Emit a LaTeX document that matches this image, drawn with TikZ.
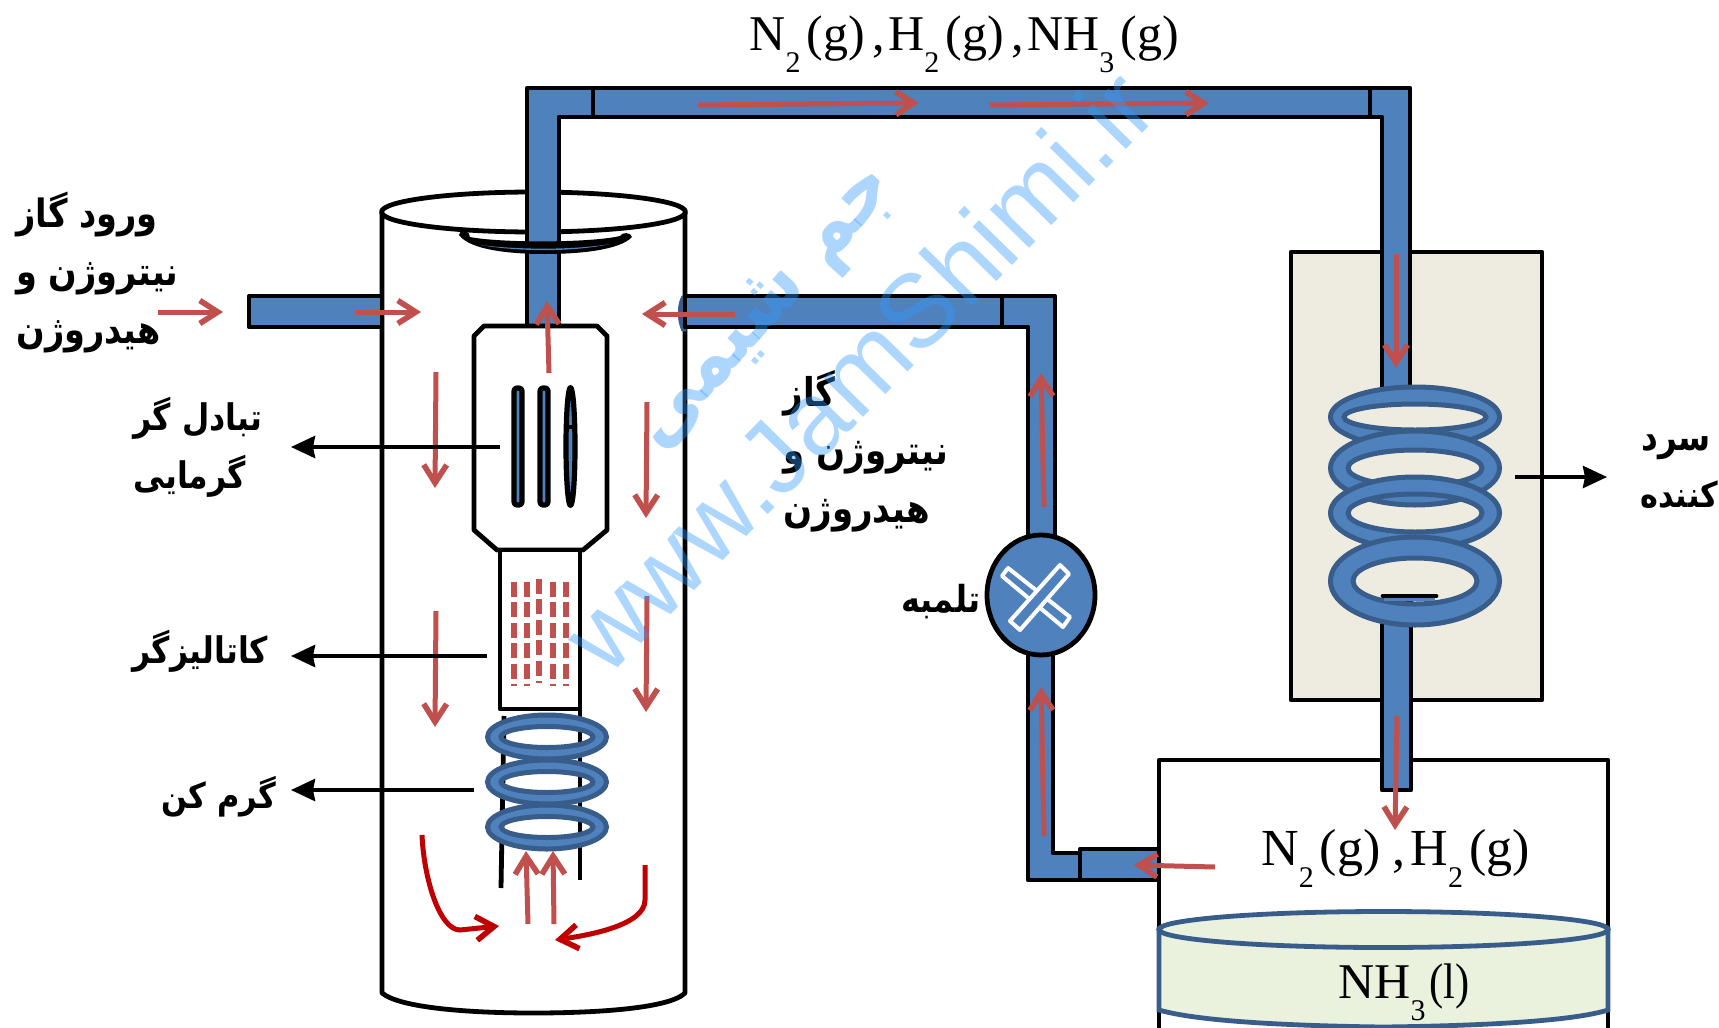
\documentclass[tikz,border=0pt]{standalone}
\usepackage{fontspec}
\usetikzlibrary{arrows.meta}
\setmainfont{Liberation Serif}
\newfontfamily\arabicfont[Script=Arabic,FakeStretch=0.86]{DejaVu Sans}
\newfontfamily\wmfont{Liberation Sans}
\TeXXeTstate=1
\definecolor{pipeblue}{HTML}{4F81BD}
\definecolor{ringedge}{HTML}{385D8A}
\definecolor{redarrow}{HTML}{C0504D}
\definecolor{darkred}{HTML}{C00000}
\definecolor{coolfill}{HTML}{EEECE1}
\definecolor{liquid}{HTML}{EAF1DD}
\definecolor{wmblue}{HTML}{3399FF}
\tikzset{
  pipe/.style={fill=pipeblue,draw=black,line width=2.4pt,line join=round},
  shell/.style={draw=black,line width=2.4pt,line join=round},
  flow/.style={draw=redarrow,line width=2.5pt,-{Straight Barb[length=9pt,width=11.5pt,line width=2.8pt]}},
  curveflow/.style={draw=darkred,line width=2.5pt,-{Straight Barb[length=9pt,width=12pt,line width=2.8pt]}},
  callout/.style={draw=black,line width=2pt,-{Stealth[length=12pt,width=11pt,inset=1pt]}},
  ring/.style={fill=pipeblue,draw=ringedge,line width=2.5pt,even odd rule},
  fa/.style={font=\arabicfont\bfseries\fontsize{#1}{29}\selectfont,inner sep=0pt,align=left},
  fa/.default=19.5,
  chem/.style={font=\fontsize{#1}{30}\selectfont,inner sep=0pt},
  chem/.default=25,
  catdash/.style={draw=redarrow,line width=2.6pt,dash pattern=on 7.5pt off 2.7pt},
  xbar/.style={draw=white,line width=2pt,fill=pipeblue,line join=round}
}
\newcommand{\low}[1]{\raisebox{-11pt}{\fontsize{15}{15}\selectfont #1}}
\newcommand{\gas}[1]{\kern3pt(#1)}
\newcommand{\cma}{\kern4pt,\kern1.5pt}
\begin{document}
\begin{tikzpicture}[x=0.5pt,y=-0.5pt]
\useasboundingbox (0,0) rectangle (1719,1028);
% cooler box and tank
\path[shell,fill=coolfill] (1291,252) rectangle (1542,700);
\coordinate (tankTL) at (1159,760);
\coordinate (tankTR) at (1608,760);
\draw[shell] (1159,1028) -- (tankTL) -- (tankTR) -- (1608,1028);
% reactor shell
\draw[shell] (382,212) -- (382,993) .. controls (400,1008) and (470,1013) .. (533,1013) .. controls (600,1013) and (670,1008) .. (685,993) -- (685,212);
\draw[shell] (533.5,212) ellipse [x radius=152,y radius=20];
% pipes
\draw[pipe] (249,296) rectangle (382,327);
\draw[pipe] (593,88) -- (527,88) -- (527,326) -- (559,326) -- (559,117) -- (593,117) -- cycle;
\draw[pipe] (593,88) rectangle (1370,117);
\draw[pipe] (1370,88) -- (1410,88) -- (1410,390) -- (1382,390) -- (1382,117) -- (1370,117) -- cycle;
\draw[pipe] (1382,600) rectangle (1411,790);
\draw[pipe] (1002,296) -- (1055,296) -- (1055,545) -- (1028,545) -- (1028,327) -- (1002,327) -- cycle;
\draw[ringedge,fill=ringedge] (682,296) .. controls (677,305) and (677,320) .. (682,331) -- (686,331) -- (686,296) -- cycle;
\draw[pipe] (685,296) rectangle (1002,327);
\draw[pipe] (1028,650) -- (1028,880) -- (1080,880) -- (1080,853) -- (1053,853) -- (1053,650) -- cycle;
\draw[pipe] (1080,849) rectangle (1159,880);
% dish
\fill[black] (459,235) .. controls (462,226) and (470,232) .. (470,237) .. controls (500,243) and (590,243) .. (620,236) .. controls (622,232) and (631,232) .. (632,237) .. controls (620,250) and (580,254) .. (545,254) .. controls (510,254) and (470,250) .. (459,235) -- cycle;
\fill[pipeblue] (480,245) .. controls (520,250) and (575,250) .. (610,244) .. controls (575,252) and (520,252) .. (480,245) -- cycle;
% exchanger
\draw[shell,fill=white] (484,326) -- (597,326) -- (607,336) -- (607,530) -- (583,550) -- (497,550) -- (474,530) -- (474,336) -- cycle;
\draw[pipe,line width=2.6pt,rounded corners=1.5pt] (514,388) rectangle (522,505);
\draw[pipe,line width=2.6pt,rounded corners=1.5pt] (540,388) rectangle (548,505);
\draw[pipe,line width=2.6pt] (570.5,446.5) ellipse [x radius=4.5,y radius=59];
\draw[black,line width=2.2pt] (566,427) -- (575,427);
% catalyst bed
\draw[shell,fill=white] (500,550) rectangle (580,709);
\foreach \cx/\dy in {514/0,527/0,539/-3,553/0,566/0}{
  \draw[catdash] (\cx,582+\dy) -- (\cx,686+\dy);
}
% heater legs and coil
\draw[black,line width=2.4pt] (504,716) -- (501,888);
\draw[black,line width=2.4pt] (580,709) -- (580,880);
\foreach \cy in {737,782,827}{
  \path[ring] (547,\cy) ellipse [x radius=59.5,y radius=22] (547,\cy) ellipse [x radius=46,y radius=10.5];
}
% cooling coil
\path[ring] (1415,417) ellipse [x radius=84.5,y radius=30] (1415,417) ellipse [x radius=71,y radius=13];
\path[ring] (1415,468) ellipse [x radius=84.5,y radius=37] (1415,468) ellipse [x radius=67,y radius=18];
\path[ring] (1415,513) ellipse [x radius=84.5,y radius=36] (1415,513) ellipse [x radius=67,y radius=19];
\path[ring] (1415,581) ellipse [x radius=84.5,y radius=44] (1415,581) ellipse [x radius=62,y radius=23];
\fill[pipeblue] (1384,596) rectangle (1435,601);
\draw[black,line width=2.4pt,line cap=round] (1383,596) -- (1436,596);
% liquid
\draw[ringedge,line width=2.4pt,fill=liquid] (1159,929) -- (1159,1010) .. controls (1200,1022) and (1300,1026) .. (1383,1027) .. controls (1470,1026) and (1570,1022) .. (1608,1010) -- (1608,929) -- cycle;
\draw[ringedge,line width=2.4pt,fill=liquid] (1383.5,929.5) ellipse [x radius=224.5,y radius=18];
% pump
\draw[shell,fill=pipeblue] (1041,595) ellipse [x radius=54,y radius=60];
\draw[xbar] (1008,568) -- (1070,617) -- (1063,627) -- (1002,576) -- cycle;
\draw[xbar] (1060,565) -- (1069,574) -- (1020,630) -- (1010,621) -- cycle;
% flow arrows
\coordinate (f1a) at (698,105); \coordinate (f1b) at (919,103);
\draw[flow] (f1a) -- (f1b);
\coordinate (f2a) at (989,105); \coordinate (f2b) at (1209,103);
\draw[flow] (f2a) -- (f2b);
\draw[flow] (158,312) -- (223,312);
\draw[flow] (356,312) -- (421,312);
\draw[flow] (735,314) -- (642,314);
\draw[flow] (549,373) -- (547,301);
\draw[flow] (436,372) -- (435,488);
\draw[flow] (647,402) -- (646,518);
\draw[flow] (436,611) -- (435,727);
\draw[flow] (647,596) -- (646,712);
\draw[flow] (528,924) -- (526,851);
\draw[flow] (554,924) -- (553,851);
\draw[flow] (1044,507) -- (1041,373);
\draw[flow] (1044,836) -- (1041,687);
\draw[flow] (1215,867) -- (1134,865);
\draw[flow] (1396,254) -- (1396,368);
\draw[flow] (1397,716) -- (1395,830);
\draw[curveflow] (422,835) .. controls (424,880) and (440,930) .. (460,930) -- (499,926);
\draw[curveflow] (645,865) -- (645,900) .. controls (645,925) and (590,935) .. (555,940);
% labels
\coordinate (cA) at (500,447); \coordinate (cB) at (487,656); \coordinate (cC) at (474,790); \coordinate (cD) at (1515,477);
\draw[callout] (cA) -- (291,447);
\draw[callout] (cB) -- (291,656);
\draw[callout] (cC) -- (291,790);
\draw[callout] (cD) -- (1607,477);
\node[fa,anchor=west] (inlet) at (16,273) {\beginR ورود گاز\endR\\\beginR نیتروژن و\endR\\\beginR هیدروژن\endR};
\node[fa=18.3,anchor=west] (hx) at (133,447) {\beginR تبادل گر\endR\\\beginR گرمایی\endR};
\node[fa=18.3,anchor=west] (cat) at (132,651) {\beginR کاتالیزگر\endR};
\node[fa=17.7,anchor=west] (heat) at (161,797) {\beginR گرم کن\endR};
\node[fa=19.8,anchor=west] (gas) at (783,451) {\beginR گاز\endR\\\beginR نیتروژن و\endR\\\beginR هیدروژن\endR};
\node[fa=18.6,anchor=west] (pumpl) at (901,602) {\beginR تلمبه\endR};
\node[fa=19,anchor=west] (coolA) at (1641,447) {\beginR سرد\endR};
\node[fa=17.6,anchor=west] (coolB) at (1640,495) {\beginR کننده\endR};
\node[chem,anchor=base west] (top) at (749,50) {N\low{2}\gas{g}\cma H\low{2}\gas{g}\cma NH\low{3}\gas{g}};
\node[chem=26,anchor=base west] (mid) at (1261,865) {N\low{2}\gas{g}\kern6pt,\kern2.5pt H\low{2}\gas{g}};
\node[chem,anchor=base west] (liq) at (1338,998) {NH\low{3}\kern2pt\scalebox{0.85}[1]{(l)}};
% watermark
\node[opacity=0.4,text=wmblue,font=\wmfont\fontsize{52}{52}\selectfont,rotate=45.6,inner sep=0pt] (wm1) at (858,370) {www.JamShimi.ir};
\node[opacity=0.4,text=wmblue,font=\arabicfont\bfseries\fontsize{42}{42}\selectfont,rotate=48,inner sep=0pt] (wm2) at (768,310) {\beginR جم شیمی\endR};
\end{tikzpicture}
\end{document}
